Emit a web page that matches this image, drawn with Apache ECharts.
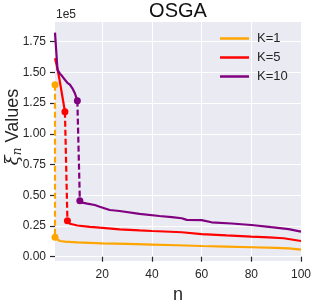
<!DOCTYPE html>
<html>
<head>
<meta charset="utf-8">
<script src="https://cdn.jsdelivr.net/npm/echarts@6/dist/echarts.min.js"></script>
<style>html,body{margin:0;padding:0;background:#fff}#c{width:316px;height:302px}</style>
</head>
<body>
<div id="c"></div>
<script>
// values in units of 1e5
const seriesNames = ['K=1', 'K=5', 'K=10'];
const colors = ['#FFA500', '#FF0000', '#800080'];
const yTicks = [0, 0.25, 0.5, 0.75, 1.0, 1.25, 1.5, 1.75];
const xTicks = [20, 40, 60, 80, 100];

const k1Before = [[1, 1.40]];
const k1Jump = [[1, 1.40], [1, 0.158]];
const k1After = [[1, 0.158], [2, 0.14], [3, 0.128], [5, 0.122], [10, 0.117], [20, 0.109], [30, 0.104], [40, 0.099], [50, 0.093], [60, 0.087], [70, 0.082], [80, 0.077], [90, 0.072], [95, 0.067], [100, 0.057]];

const k5Before = [[1, 1.615], [2, 1.53], [3, 1.42], [4, 1.30], [5, 1.18]];
const k5Jump = [[5, 1.18], [6, 0.293]];
const k5After = [[6, 0.293], [7, 0.268], [10, 0.254], [15, 0.243], [19, 0.236], [27, 0.223], [35, 0.214], [40, 0.209], [45, 0.205], [52, 0.199], [60, 0.184], [70, 0.173], [80, 0.163], [87, 0.157], [93, 0.15], [100, 0.128]];

const k10Before = [[1, 1.824], [2, 1.52], [3, 1.49], [4, 1.466], [5, 1.44], [6, 1.415], [7, 1.40], [8, 1.37], [9, 1.33], [10, 1.27]];
const k10Jump = [[10, 1.27], [11, 0.456]];
const k10After = [[11, 0.456], [12, 0.44], [14, 0.432], [17, 0.421], [19, 0.407], [23, 0.38], [27, 0.372], [35, 0.348], [43, 0.331], [48, 0.322], [52, 0.313], [54, 0.30], [60, 0.298], [64, 0.28], [72, 0.27], [80, 0.258], [88, 0.24], [95, 0.225], [100, 0.204]];

const groups = [
  [k1Before, k1Jump, k1After],
  [k5Before, k5Jump, k5After],
  [k10Before, k10Jump, k10After]
];

const FONT = 'Liberation Sans, Arial, sans-serif';
const TXT = '#262626';

const series = [];
groups.forEach((g, i) => {
  const c = colors[i];
  series.push({
    name: seriesNames[i], type: 'line', data: g[2], showSymbol: false,
    lineStyle: { color: c, width: 2.2 }, itemStyle: { color: c }, z: 3
  });
  series.push({
    name: seriesNames[i] + '_pre', type: 'line', data: g[0], showSymbol: false,
    lineStyle: { color: c, width: 2.2 }, itemStyle: { color: c }, z: 3
  });
  series.push({
    name: seriesNames[i] + '_jump', type: 'line', data: g[1], symbol: 'circle', symbolSize: 7,
    showAllSymbol: true,
    lineStyle: { color: c, width: 2.2, type: [6, 3] }, itemStyle: { color: c }, z: 4
  });
});

const chart = echarts.init(document.getElementById('c'), null, { renderer: 'canvas' });
chart.setOption({
  animation: false,
  backgroundColor: '#ffffff',
  textStyle: { fontFamily: FONT },
  grid: { left: 55, right: 15, top: 22, bottom: 41, show: true, backgroundColor: '#EAEAF2', borderWidth: 0,
    containLabel: false, outerBoundsMode: 'none' },
  legend: {
    data: seriesNames, orient: 'vertical', left: 215, top: 27,
    icon: 'rect', itemWidth: 29, itemHeight: 2.5, itemGap: 6,
    textStyle: { fontFamily: FONT, fontSize: 13, color: TXT, lineHeight: 13, padding: [0, 0, 0, 3] },
    selectedMode: false
  },
  xAxis: {
    type: 'value', min: 1, max: 100,
    name: 'n', nameLocation: 'middle', nameGap: 17,
    nameTextStyle: { fontFamily: FONT, fontSize: 18, color: TXT },
    axisLine: { show: false },
    axisTick: { show: true, length: 5, customValues: xTicks, lineStyle: { color: TXT, width: 1.2 } },
    axisLabel: { customValues: xTicks, fontFamily: FONT, fontSize: 12, color: TXT, margin: 8 },
    splitLine: { show: true, lineStyle: { color: '#ffffff', width: 1 } }
  },
  yAxis: {
    type: 'value', min: -0.035, max: 1.91,
    axisLine: { show: false },
    axisTick: { show: true, length: 5, customValues: yTicks, lineStyle: { color: TXT, width: 1.2 } },
    axisLabel: { customValues: yTicks, fontFamily: FONT, fontSize: 12, color: TXT, margin: 9,
      formatter: v => v.toFixed(2) },
    splitLine: { show: true, lineStyle: { color: '#ffffff', width: 1 } }
  },
  graphic: [
    { type: 'text', x: 178, y: 11, style: { text: 'OSGA', fontFamily: FONT, fontSize: 20, fill: '#111', textAlign: 'center', textVerticalAlign: 'middle' } },
    { type: 'text', left: 56, top: 9, style: { text: '1e5', fontFamily: FONT, fontSize: 12, fill: TXT } },
    { type: 'text', x: 13, y: 127, rotation: Math.PI / 2,
      style: {
        text: '{xi|ξ}{sub|n}{t| Values}', textAlign: 'center', textVerticalAlign: 'middle', fill: TXT,
        rich: {
          xi: { fontFamily: 'DejaVu Serif', fontStyle: 'italic', fontSize: 18, fill: TXT, lineHeight: 22, verticalAlign: 'middle' },
          sub: { fontFamily: 'DejaVu Serif', fontStyle: 'italic', fontSize: 12, fill: TXT, lineHeight: 12, padding: [10, 0, 0, 0], verticalAlign: 'middle' },
          t: { fontFamily: FONT, fontSize: 18, fill: TXT, lineHeight: 22, verticalAlign: 'middle' }
        }
      }
    }
  ],
  series: series
});
</script>
</body>
</html>
